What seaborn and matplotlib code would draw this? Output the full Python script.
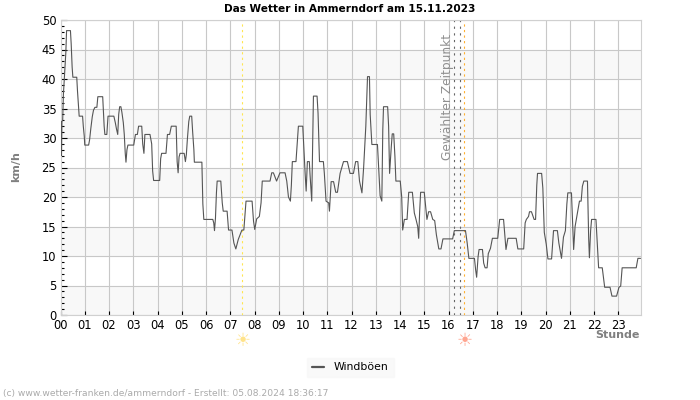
import matplotlib
matplotlib.use('Agg')
import matplotlib.pyplot as plt
import pandas as pd
import seaborn as sns

# wind gusts (hour of day, km/h)
hours = [0.00, 0.02, 0.04, 0.06, 0.09, 0.12, 0.22, 0.25, 0.41, 0.44, 0.48, 0.51, 0.67, 0.70, 0.74, 0.77, 0.91, 0.94, 0.98, 1.00,
         1.16, 1.20, 1.25, 1.31, 1.36, 1.42, 1.50, 1.54, 1.74, 1.76, 1.80, 1.83, 1.91, 1.96, 2.20, 2.26, 2.31, 2.36, 2.40, 2.44,
         2.49, 2.53, 2.59, 2.63, 2.67, 2.70, 2.74, 2.78, 3.02, 3.09, 3.17, 3.22, 3.35, 3.39, 3.44, 3.48, 3.69, 3.76, 3.80, 3.84,
         4.09, 4.13, 4.17, 4.35, 4.41, 4.50, 4.57, 4.77, 4.81, 4.85, 4.89, 4.93, 5.10, 5.15, 5.19, 5.23, 5.29, 5.33, 5.41, 5.45,
         5.50, 5.52, 5.83, 5.87, 5.91, 6.28, 6.32, 6.35, 6.39, 6.43, 6.46, 6.61, 6.67, 6.71, 6.87, 6.93, 7.07, 7.15, 7.23, 7.33,
         7.48, 7.56, 7.65, 7.90, 7.96, 8.01, 8.09, 8.20, 8.27, 8.32, 8.64, 8.71, 8.78, 8.91, 9.05, 9.26, 9.33, 9.40, 9.48, 9.52,
         9.56, 9.71, 9.81, 9.99, 10.09, 10.13, 10.18, 10.26, 10.29, 10.36, 10.43, 10.58, 10.62, 10.68, 10.84, 10.88, 10.95, 11.06, 11.09, 11.16,
         11.26, 11.35, 11.42, 11.48, 11.53, 11.67, 11.83, 11.94, 12.08, 12.17, 12.26, 12.33, 12.43, 12.50, 12.59, 12.66, 12.74, 12.77, 12.84, 13.07,
         13.13, 13.18, 13.25, 13.29, 13.32, 13.49, 13.53, 13.57, 13.64, 13.68, 13.74, 13.79, 13.83, 14.01, 14.07, 14.11, 14.18, 14.29, 14.36, 14.51,
         14.59, 14.66, 14.73, 14.77, 14.81, 14.85, 15.00, 15.07, 15.11, 15.18, 15.26, 15.35, 15.43, 15.50, 15.60, 15.69, 15.77, 16.17, 16.24, 16.70,
         16.77, 16.84, 17.07, 17.12, 17.16, 17.22, 17.26, 17.40, 17.45, 17.51, 17.59, 17.64, 17.73, 17.81, 18.03, 18.11, 18.27, 18.33, 18.37, 18.45,
         18.79, 18.86, 19.10, 19.16, 19.21, 19.30, 19.34, 19.42, 19.53, 19.59, 19.64, 19.67, 19.84, 19.89, 19.95, 20.03, 20.10, 20.25, 20.33, 20.49,
         20.55, 20.66, 20.74, 20.82, 20.88, 20.92, 21.07, 21.12, 21.16, 21.22, 21.29, 21.40, 21.47, 21.52, 21.58, 21.73, 21.78, 21.81, 21.86, 21.90,
         22.08, 22.14, 22.19, 22.34, 22.40, 22.44, 22.66, 22.74, 22.93, 23.03, 23.10, 23.16, 23.74, 23.81, 23.917]
gusts = [28.8, 32.8, 27.0, 32.8, 33.0, 37.4, 44.5, 48.2, 48.2, 46.0, 42.0, 40.3, 40.3, 38.0, 35.4, 33.7, 33.7, 32.0, 30.3, 28.8,
         28.8, 29.7, 31.6, 33.6, 34.7, 35.2, 35.2, 37.0, 37.0, 35.4, 32.0, 30.6, 30.6, 33.7, 33.7, 32.6, 31.5, 30.6, 34.0, 35.3,
         35.3, 34.4, 32.6, 30.6, 27.4, 25.9, 28.0, 28.8, 28.8, 30.6, 30.6, 32.0, 32.0, 29.0, 27.4, 30.6, 30.6, 29.0, 24.4, 22.8,
         22.8, 26.5, 27.4, 27.4, 30.6, 30.6, 32.0, 32.0, 26.0, 24.1, 26.8, 27.4, 27.4, 26.0, 27.2, 29.7, 32.8, 33.7, 33.7, 31.0,
         28.0, 25.9, 25.9, 18.8, 16.2, 16.2, 15.6, 14.3, 16.4, 20.7, 22.7, 22.7, 19.0, 17.6, 17.6, 14.4, 14.4, 12.2, 11.2, 12.8,
         14.4, 14.4, 19.3, 19.3, 15.9, 14.5, 16.3, 16.7, 19.0, 22.7, 22.7, 24.1, 24.1, 22.7, 24.1, 24.1, 22.7, 20.0, 19.3, 22.0,
         26.0, 26.0, 32.0, 32.0, 23.8, 21.0, 26.0, 26.0, 23.8, 19.3, 37.1, 37.1, 34.2, 26.0, 26.0, 24.0, 19.3, 19.0, 17.6, 22.6,
         22.6, 20.8, 20.8, 22.5, 24.0, 26.0, 26.0, 24.0, 24.0, 26.0, 26.0, 22.7, 20.7, 25.0, 32.0, 40.4, 40.4, 34.0, 28.9, 28.9,
         24.0, 20.2, 19.3, 31.4, 35.3, 35.3, 32.0, 24.0, 28.5, 30.7, 30.7, 26.9, 22.7, 22.7, 20.0, 14.4, 16.2, 16.2, 20.8, 20.8,
         17.3, 16.2, 15.0, 13.0, 17.5, 20.8, 20.8, 17.9, 16.2, 17.5, 17.5, 16.2, 16.0, 13.6, 11.2, 11.2, 12.9, 12.9, 14.3, 14.3,
         12.2, 9.6, 9.6, 7.6, 6.4, 9.9, 11.1, 11.1, 8.8, 8.0, 8.0, 10.4, 11.3, 13.0, 13.0, 16.2, 16.2, 13.0, 11.1, 13.0,
         13.0, 11.2, 11.2, 15.6, 16.2, 16.7, 17.5, 17.5, 16.2, 16.2, 22.0, 24.0, 24.0, 21.5, 14.0, 12.0, 9.5, 9.5, 14.3, 14.3,
         12.2, 9.6, 13.2, 14.3, 18.8, 20.7, 20.7, 15.6, 11.1, 15.0, 16.7, 19.3, 19.3, 21.8, 22.7, 22.7, 13.0, 9.7, 14.3, 16.2,
         16.2, 11.6, 8.0, 8.0, 6.0, 4.7, 4.7, 3.2, 3.2, 4.7, 4.9, 8.0, 8.0, 9.6, 9.6]

x_ticks = list(range(24))
x_labels = [f'{h:02d}' for h in x_ticks]
y_ticks = list(range(0, 51, 5))
y_minor = [v for v in range(0, 51) if v % 5 != 0]
band_starts = [0, 10, 20, 30, 40]

sunrise = 7.50
sunset = 16.65
selected = [16.24, 16.49]

df = pd.DataFrame({'Stunde': hours, 'Windböen': gusts})

sns.set_theme(style='white')
plt.rcParams['font.family'] = ['DejaVu Sans']

fig = plt.figure(figsize=(7, 4), dpi=100)
ax = fig.add_axes([60.5 / 700, 1 - 315 / 400, 580 / 700, 295 / 400])

# background bands and grid
for b in band_starts:
    ax.axhspan(b, b + 5, color='#f8f8f8', lw=0, zorder=0)
ax.grid(True, color='#c8c8c8', lw=0.8, zorder=1)
ax.set_axisbelow(True)

sns.lineplot(data=df, x='Stunde', y='Windböen', ax=ax, color='#555555', lw=0.8,
             estimator=None, errorbar=None, zorder=3)

ax.axvline(sunrise, color='#ffe650', ls=(0, (2, 3)), lw=0.8, zorder=2)
ax.axvline(sunset, color='#ffb030', ls=(0, (2, 3)), lw=0.8, zorder=2)
for s in selected:
    ax.axvline(s, color='#666666', ls=(0, (2, 4)), lw=0.8, zorder=2)

ax.set_xlim(0, 23.917)
ax.set_ylim(0, 50)
ax.set_xticks(x_ticks)
ax.set_xticklabels(x_labels, fontsize=8.3, color='black')
ax.set_yticks(y_ticks)
ax.set_yticklabels(y_ticks, fontsize=8.3, color='black')
ax.set_yticks(y_minor, minor=True)
ax.tick_params(axis='x', which='major', direction='in', length=3, width=0.8, color='black', pad=3, bottom=True)
ax.tick_params(axis='y', which='major', direction='in', length=4, width=0.8, color='black', pad=3, left=True)
ax.tick_params(axis='y', which='minor', direction='in', length=2.4, width=0.8, color='black', left=True)
ax.grid(False, which='minor')
for side in ax.spines.values():
    side.set_color('#d0d0d0')
    side.set_linewidth(0.8)

ax.set_xlabel('')
ax.set_ylabel('')

fig.text(349.5 / 700, 1 - 9 / 400, 'Das Wetter in Ammerndorf am 15.11.2023', ha='center', va='center',
         fontsize=7.6, fontweight='bold', color='black')
fig.text(16 / 700, 1 - 167 / 400, 'km/h', rotation=90, ha='center', va='center',
         fontsize=8, fontweight='bold', color='#808080')
fig.text(640 / 700, 1 - 335 / 400, 'Stunde', ha='right', va='center',
         fontsize=8, fontweight='bold', color='#808080')
ax.text(15.96, 36.9, 'Gewählter Zeitpunkt', rotation=90, ha='center', va='center',
        fontsize=8.8, color='#909090', zorder=4)

# sun symbols under the axis
fig.text(60.5 / 700 + sunrise * 24.25 / 700, 1 - 341 / 400, '☀', ha='center', va='center',
         fontsize=13, color='#ffe38a')
fig.text(60.5 / 700 + sunset * 24.25 / 700, 1 - 341 / 400, '☀', ha='center', va='center',
         fontsize=13, color='#ffa590')

leg = fig.legend(handles=[plt.Line2D([], [], color='#555555', lw=1.6)], labels=['Windböen'],
                 loc='center', bbox_to_anchor=(350.5 / 700, 1 - 367.5 / 400), fontsize=7.8,
                 frameon=True, fancybox=False, facecolor='#f8f8f8', edgecolor='#f8f8f8',
                 handlelength=1.1, borderpad=0.45, handletextpad=0.9, labelcolor='black')

fig.text(3 / 700, 1 - 393.5 / 400, '(c) www.wetter-franken.de/ammerndorf - Erstellt: 05.08.2024 18:36:17',
         ha='left', va='center', fontsize=6.6, color='#aaaaaa')

fig.savefig('out.png', dpi=100)
